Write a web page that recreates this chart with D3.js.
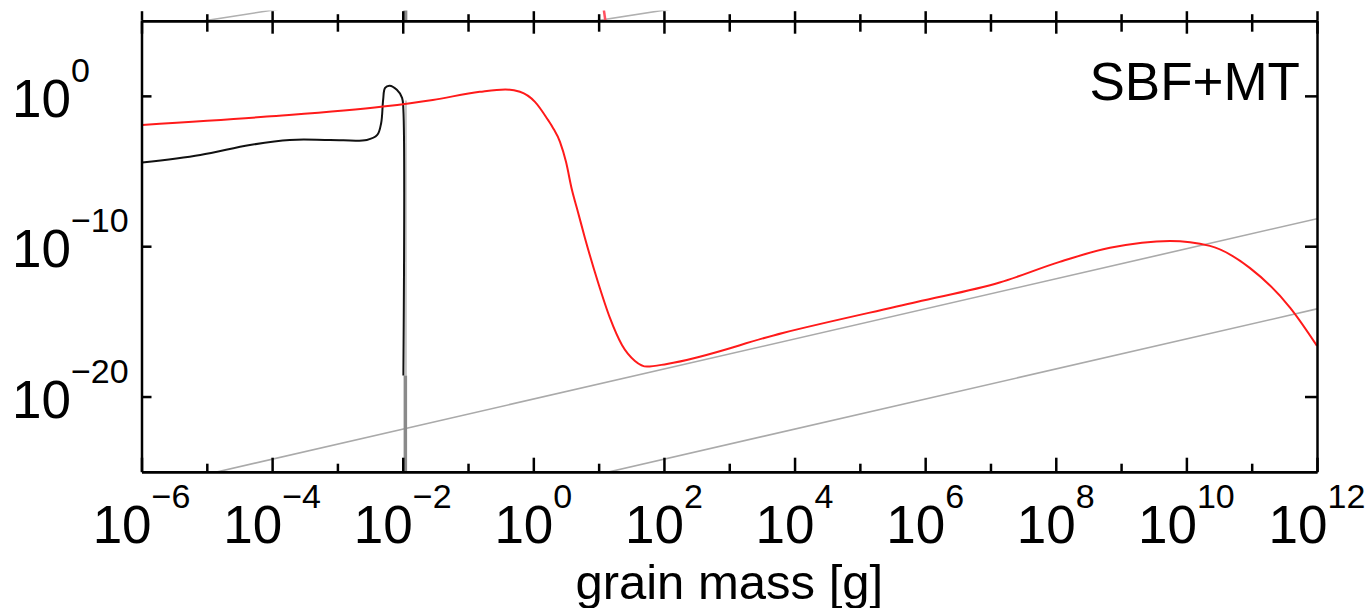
<!DOCTYPE html>
<html>
<head>
<meta charset="utf-8">
<script src="https://cdn.jsdelivr.net/npm/d3@7/dist/d3.min.js"></script>
<style>
  html, body { margin: 0; padding: 0; background: #fff; }
  svg { display: block; font-family: "Liberation Sans", Arial, Helvetica, sans-serif; }
</style>
</head>
<body>
<svg id="chart" width="1372" height="608"></svg>
<script>
// ---------------- data (log10 values) ----------------
const xMajorExp = [-6, -4, -2, 0, 2, 4, 6, 8, 10, 12];
const xMinorExp = [-5, -3, -1, 1, 3, 5, 7, 9, 11];
const yTickExp = [0, -10, -20];
const panelLabel = "SBF+MT";
const xTitle = "grain mass [g]";

// red curve (log10 mass, log10 value)
const redLogM = [-5.99, -4.08, -2.30, -1.54, -0.82, -0.43, -0.205, 0.025, 0.224, 0.301, 0.408, 0.50, 0.591, 0.683, 0.79, 0.989, 1.173, 1.357, 1.556, 1.74, 2.046, 3.82, 5.87, 7.14, 8.06, 8.83, 9.75, 10.36, 10.97, 11.59, 12.0];
const redLogY = [-1.93, -1.38, -0.71, -0.27, 0.27, 0.43, 0.27, -0.40, -1.60, -2.13, -3.06, -4.39, -6.25, -7.72, -9.45, -12.38, -14.77, -16.57, -17.63, -18.01, -17.83, -15.77, -13.71, -12.42, -11.04, -10.11, -9.65, -9.98, -11.44, -14.1, -16.63];

// black curve
const blackLogM = [-5.99, -5.10, -4.34, -3.73, -3.11, -2.55, -2.39, -2.33, -2.30, -2.27, -2.20, -2.09, -2.01, -1.99, -1.99];
const blackLogY = [-4.44, -3.93, -3.27, -2.93, -2.93, -2.93, -2.6, -1.8, -0.27, 0.53, 0.67, 0.40, -0.13, -0.93, -18.6];

// grey vertical line (log10 mass) and where it becomes visible below the black curve
const greyVertLogM = -1.975;
const greyVertTopLogY = -18.6;

// grey straight reference lines: two end points each (log10 mass, log10 value)
const greyLineA = [[-6, -26.17], [12, -8.17]];
const greyLineB = [[-6, -32.17], [12, -14.17]];

// fragments of the panel above, visible at the top edge
const upperRedLogM = 1.08;

// ---------------- layout ----------------
const L = 141.5, R = 1317, T = 20.7, B = 471.7;
const svg = d3.select("#chart");

const x = d3.scaleLog().domain([1e-6, 1e12]).range([L, R]);
const y = d3.scaleLog().domain([1e-25, 1e5]).range([B, T]);
const yUp = d3.scaleLog().domain([Math.pow(10, -25.2), Math.pow(10, -24.2)]).range([T, T - 10.2]);

const p10 = v => Math.pow(10, v);

const defs = svg.append("defs");
defs.append("clipPath").attr("id", "clipMain")
  .append("rect").attr("x", L).attr("y", T).attr("width", R - L).attr("height", B - T);
defs.append("clipPath").attr("id", "clipUp")
  .append("rect").attr("x", L).attr("y", 10.5).attr("width", R - L).attr("height", T - 10.5);

// ---------------- upper-panel fragments ----------------
const gUp = svg.append("g").attr("clip-path", "url(#clipUp)");
const lineUp = d3.line().x(d => x(p10(d[0]))).y(d => yUp(p10(d[1])));
[greyLineA, greyLineB].forEach(l => {
  gUp.append("path").attr("d", lineUp(l)).attr("fill", "none")
    .attr("stroke", "#b0b0b0").attr("stroke-width", 1.6);
});
gUp.append("line").attr("x1", x(p10(greyVertLogM)) + 1).attr("x2", x(p10(greyVertLogM)) + 1)
  .attr("y1", 0).attr("y2", T).attr("stroke", "#8a8a8a").attr("stroke-width", 4);
gUp.append("line").attr("x1", x(p10(upperRedLogM))).attr("x2", x(p10(upperRedLogM)) + 1.5)
  .attr("y1", 10).attr("y2", T).attr("stroke", "#ff5060").attr("stroke-width", 2.5);

// ---------------- main panel ----------------
const g = svg.append("g").attr("clip-path", "url(#clipMain)");
const line = d3.line().x(d => x(p10(d[0]))).y(d => y(p10(d[1])));

[greyLineA, greyLineB].forEach(l => {
  g.append("path").attr("d", line(l)).attr("fill", "none")
    .attr("stroke", "#aaaaaa").attr("stroke-width", 1.6);
});

// faint grey shadow next to the black drop, and the visible grey part below it
g.append("line")
  .attr("x1", x(p10(greyVertLogM)) + 1.5).attr("x2", x(p10(greyVertLogM)) + 1.5)
  .attr("y1", y(p10(-0.3))).attr("y2", y(p10(greyVertTopLogY)))
  .attr("stroke", "#c4c4c4").attr("stroke-width", 2);
g.append("line")
  .attr("x1", x(p10(greyVertLogM)) + 1).attr("x2", x(p10(greyVertLogM)) + 1)
  .attr("y1", y(p10(greyVertTopLogY))).attr("y2", B)
  .attr("stroke", "#8a8a8a").attr("stroke-width", 3.5);

const blackData = blackLogM.map((m, i) => [m, blackLogY[i]]);
g.append("path")
  .attr("d", d3.line().x(d => x(p10(d[0]))).y(d => y(p10(d[1]))).curve(d3.curveCatmullRom.alpha(0.5))(blackData))
  .attr("fill", "none").attr("stroke", "#111").attr("stroke-width", 2);

const redData = redLogM.map((m, i) => [m, redLogY[i]]);
g.append("path")
  .attr("d", d3.line().x(d => x(p10(d[0]))).y(d => y(p10(d[1]))).curve(d3.curveMonotoneX)(redData))
  .attr("fill", "none").attr("stroke", "#ff1a1a").attr("stroke-width", 2);

// ---------------- axes ----------------
const axStyle = sel => {
  sel.selectAll("path.domain").attr("stroke", "#000").attr("stroke-width", 2.5);
  sel.selectAll(".tick line").attr("stroke", "#000").attr("stroke-width", 2.5);
  sel.selectAll(".tick text").remove();
};

// bottom
svg.append("g").attr("transform", `translate(0,${B})`)
  .call(d3.axisBottom(x).tickValues(xMajorExp.map(p10)).tickSizeInner(-14).tickSizeOuter(0).tickFormat(""))
  .call(axStyle);
svg.append("g").attr("transform", `translate(0,${B})`)
  .call(d3.axisBottom(x).tickValues(xMinorExp.map(p10)).tickSizeInner(-8).tickSizeOuter(0).tickFormat(""))
  .call(axStyle);
// top (inward) and the ticks of the panel above (outward)
svg.append("g").attr("transform", `translate(0,${T})`)
  .call(d3.axisTop(x).tickValues(xMajorExp.map(p10)).tickSizeInner(-13).tickSizeOuter(0).tickFormat(""))
  .call(axStyle);
svg.append("g").attr("transform", `translate(0,${T})`)
  .call(d3.axisTop(x).tickValues(xMinorExp.map(p10)).tickSizeInner(-11).tickSizeOuter(0).tickFormat(""))
  .call(axStyle);
svg.append("g").attr("transform", `translate(0,${T})`)
  .call(d3.axisTop(x).tickValues(xMajorExp.map(p10)).tickSizeInner(9.5).tickSizeOuter(0).tickFormat(""))
  .call(axStyle).select("path.domain").remove();
svg.append("g").attr("transform", `translate(0,${T})`)
  .call(d3.axisTop(x).tickValues(xMinorExp.map(p10)).tickSizeInner(6.5).tickSizeOuter(0).tickFormat(""))
  .call(axStyle).select("path.domain").remove();
// left / right
svg.append("g").attr("transform", `translate(${L},0)`)
  .call(d3.axisLeft(y).tickValues(yTickExp.map(p10)).tickSizeInner(-10).tickSizeOuter(0).tickFormat(""))
  .call(axStyle);
svg.append("g").attr("transform", `translate(${R},0)`)
  .call(d3.axisRight(y).tickValues(yTickExp.map(p10)).tickSizeInner(-12).tickSizeOuter(0).tickFormat(""))
  .call(axStyle);

// ---------------- labels ----------------
const fmtExp = e => (e < 0 ? "\u2212" + Math.abs(e) : String(e));

xMajorExp.forEach(e => {
  const t = svg.append("text")
    .attr("x", x(p10(e))).attr("y", B + 71)
    .attr("text-anchor", "middle")
    .attr("font-size", 53).attr("fill", "#000");
  t.append("tspan").text("10");
  t.append("tspan").attr("dy", -35).attr("font-size", 34).text(fmtExp(e));
});

yTickExp.forEach(e => {
  const t = svg.append("text")
    .attr("x", 12).attr("y", y(p10(e)) + 21)
    .attr("text-anchor", "start")
    .attr("font-size", 53).attr("fill", "#000");
  t.append("tspan").text("10");
  t.append("tspan").attr("dy", -35).attr("font-size", 34).text(fmtExp(e));
});

svg.append("text")
  .attr("x", 1300).attr("y", 100)
  .attr("text-anchor", "end")
  .attr("font-size", 53).attr("fill", "#000")
  .text(panelLabel);

svg.append("text")
  .attr("x", (L + R) / 2).attr("y", 599)
  .attr("text-anchor", "middle")
  .attr("font-size", 49).attr("fill", "#000")
  .text(xTitle);
</script>
</body>
</html>
